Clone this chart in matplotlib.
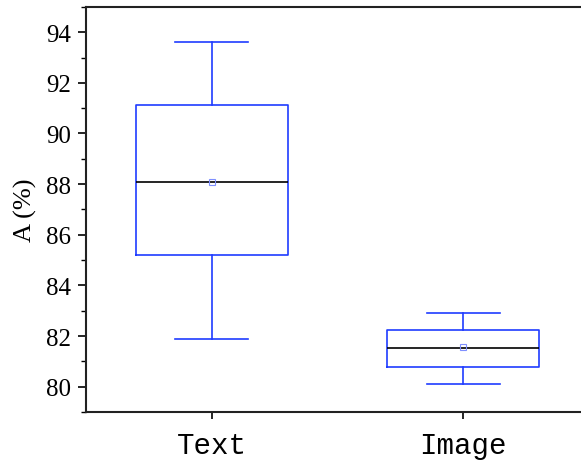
import matplotlib
matplotlib.use('Agg')
import matplotlib.pyplot as plt
from matplotlib.ticker import MultipleLocator

# Box statistics (A in %)
labels = ['Text', 'Image']
whislo = [81.9, 80.12]
q1 = [85.21, 80.79]
med = [88.09, 81.54]
q3 = [91.12, 82.25]
whishi = [93.6, 82.92]
means = [88.1, 81.55]

plt.rcParams['font.family'] = ['Liberation Serif', 'DejaVu Serif']

fig = plt.figure(figsize=(5.81, 4.64), dpi=100)
ax = fig.add_axes([0.148, 0.110, 0.866, 0.873])

stats = []
for i in range(len(labels)):
    stats.append(dict(label=labels[i], whislo=whislo[i], q1=q1[i], med=med[i],
                      q3=q3[i], whishi=whishi[i], mean=means[i], fliers=[]))

blue = '#1f3cff'
ax.bxp(stats, positions=[1, 2], widths=0.605, capwidths=0.29, showmeans=True,
       boxprops=dict(color=blue, linewidth=1.2),
       whiskerprops=dict(color=blue, linewidth=1.2),
       capprops=dict(color=blue, linewidth=1.2),
       medianprops=dict(color='black', linewidth=1.2),
       meanprops=dict(marker='s', markersize=4, markerfacecolor='none',
                      markeredgecolor='#7f8fff', markeredgewidth=0.8))

ax.set_xlim(0.5, 2.5)
ax.set_ylim(79, 95)
ax.yaxis.set_major_locator(MultipleLocator(2))
ax.yaxis.set_minor_locator(MultipleLocator(1))
ax.tick_params(axis='y', which='major', direction='out', length=6, width=1.2, labelsize=18, pad=5)
ax.tick_params(axis='y', which='minor', direction='out', length=3.5, width=1.0)
ax.tick_params(axis='x', direction='out', length=5, width=1.2, pad=9)
for lab in ax.get_xticklabels():
    lab.set_family(['Liberation Mono', 'DejaVu Sans Mono'])
    lab.set_fontsize(21)
for s in ax.spines.values():
    s.set_linewidth(1.5)
    s.set_color('#222222')
ax.set_ylabel('A (%)', fontsize=19, labelpad=6)

fig.savefig('out.png', dpi=100)
